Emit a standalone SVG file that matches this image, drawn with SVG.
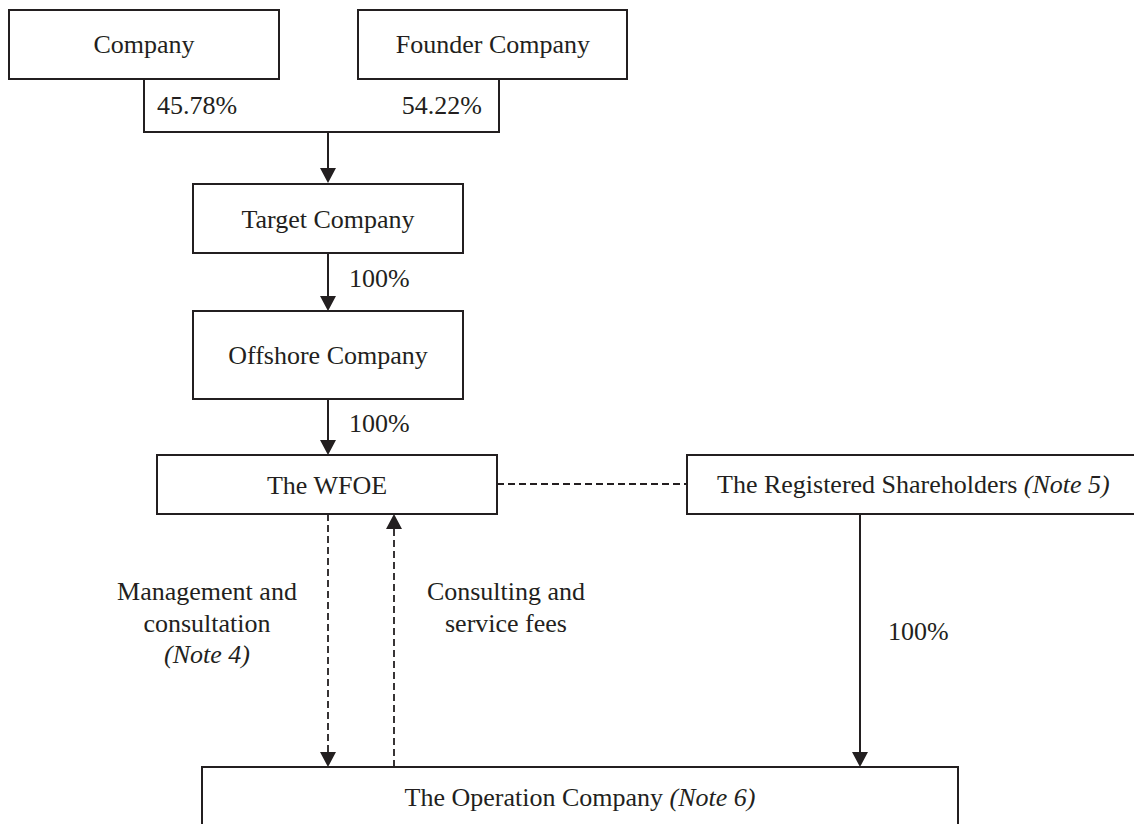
<svg xmlns="http://www.w3.org/2000/svg" width="1134" height="824" viewBox="0 0 1134 824">
<style>
.box{fill:#fff;stroke:#231f20;stroke-width:2}
.t{font-family:"Liberation Serif","Times New Roman",serif;font-size:26px;fill:#231f20}
.i{font-style:italic}
.c{fill:none;stroke:#231f20;stroke-width:2}
.d{fill:none;stroke:#231f20;stroke-width:1.8;stroke-dasharray:7 4}
</style>
<defs>
<marker id="ah" viewBox="0 0 15 16" markerWidth="15" markerHeight="16" refX="7" refY="8" orient="auto" markerUnits="userSpaceOnUse">
<path d="M0,0 L15,8 L0,16 z" fill="#231f20"/>
</marker>
</defs>
<rect width="1134" height="824" fill="#fff"/>
<g id="connectors">
<path class="c" d="M144,79 V132 H499 V79"/>
<path class="c" d="M328,132 V175" marker-end="url(#ah)"/>
<path class="c" d="M328,253 V303" marker-end="url(#ah)"/>
<path class="c" d="M328,399 V447" marker-end="url(#ah)"/>
<path class="d" d="M497,484 H687"/>
<path class="d" d="M328,514 V759" marker-end="url(#ah)"/>
<path class="d" d="M394,767 V522" marker-end="url(#ah)"/>
<path class="c" d="M860,514 V759" marker-end="url(#ah)"/>
<text class="t" x="157" y="114">45.78%</text>
<text class="t" x="482" y="114" text-anchor="end">54.22%</text>
<text class="t" x="349" y="287">100%</text>
<text class="t" x="349" y="432">100%</text>
<text class="t" x="207" y="600" text-anchor="middle">Management and</text>
<text class="t" x="207" y="632" text-anchor="middle">consultation</text>
<text class="t i" x="207" y="663" text-anchor="middle">(Note 4)</text>
<text class="t" x="506" y="600" text-anchor="middle">Consulting and</text>
<text class="t" x="506" y="632" text-anchor="middle">service fees</text>
<text class="t" x="888" y="640">100%</text>
</g>
<g id="company">
<rect class="box" x="9" y="10" width="270" height="69"/>
<text class="t" x="144" y="53" text-anchor="middle">Company</text>
</g>
<g id="founder">
<rect class="box" x="358" y="10" width="269" height="69"/>
<text class="t" x="493" y="53" text-anchor="middle">Founder Company</text>
</g>
<g id="target">
<rect class="box" x="193" y="184" width="270" height="69"/>
<text class="t" x="328" y="228" text-anchor="middle">Target Company</text>
</g>
<g id="offshore">
<rect class="box" x="193" y="311" width="270" height="88"/>
<text class="t" x="328" y="364" text-anchor="middle">Offshore Company</text>
</g>
<g id="wfoe">
<rect class="box" x="157" y="455" width="340" height="59"/>
<text class="t" x="327" y="494" text-anchor="middle">The WFOE</text>
</g>
<g id="registered">
<rect class="box" x="687" y="455" width="460" height="59"/>
<text class="t" x="717" y="493">The Registered Shareholders <tspan class="i">(Note 5)</tspan></text>
</g>
<g id="operation">
<rect class="box" x="202" y="767" width="756" height="70"/>
<text class="t" x="580" y="806" text-anchor="middle">The Operation Company <tspan class="i">(Note 6)</tspan></text>
</g>
</svg>
